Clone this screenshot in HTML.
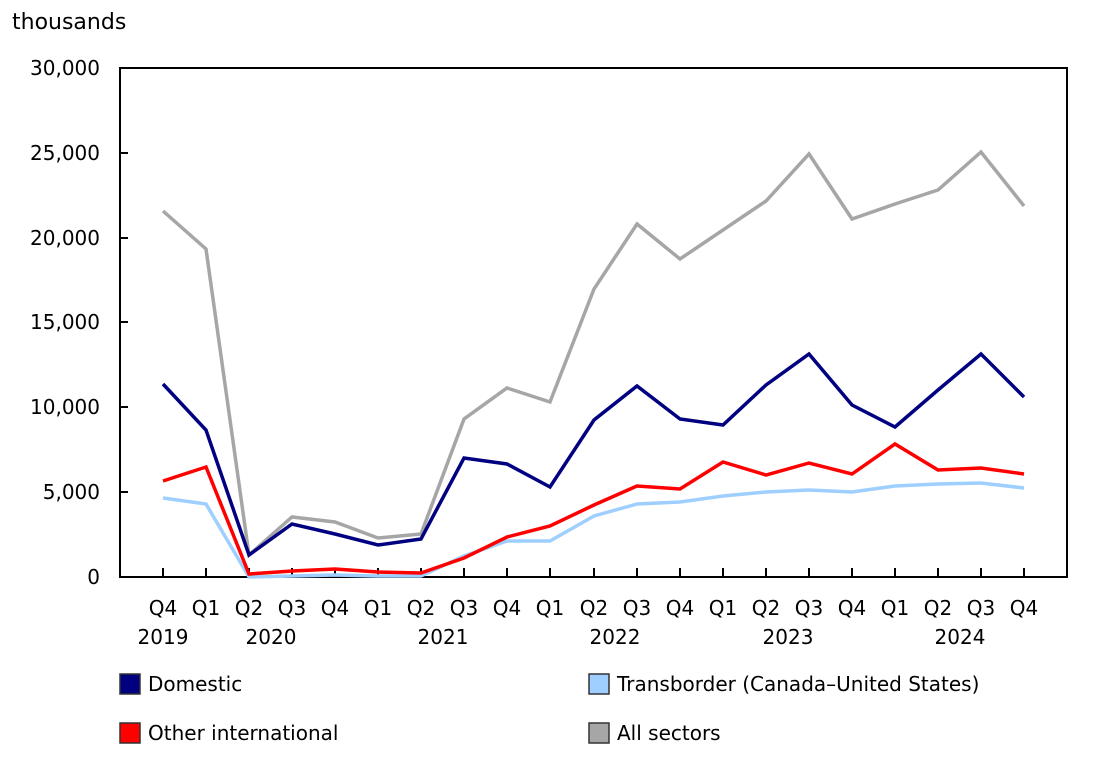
<!DOCTYPE html>
<html><head><meta charset="utf-8"><style>
body{margin:0;background:#fff;width:1103px;height:763px;overflow:hidden}
svg text{font-family:"DejaVu Sans","Liberation Sans",sans-serif;font-size:20px;fill:#000}
</style></head><body>
<svg width="1103" height="763" xmlns="http://www.w3.org/2000/svg">
<text x="12" y="29" style="font-size:22px">thousands</text>
<g text-anchor="end">
<text x="100" y="584">0</text>
<text x="100" y="499">5,000</text>
<text x="100" y="414">10,000</text>
<text x="100" y="329">15,000</text>
<text x="100" y="245">20,000</text>
<text x="100" y="160">25,000</text>
<text x="100" y="75">30,000</text>
</g>
<rect x="120" y="68" width="947" height="509" fill="none" stroke="#000" stroke-width="2"/>
<g stroke="#000" stroke-width="2">
<line x1="120" y1="492" x2="128" y2="492"/><line x1="120" y1="407" x2="128" y2="407"/>
<line x1="120" y1="322" x2="128" y2="322"/><line x1="120" y1="238" x2="128" y2="238"/>
<line x1="120" y1="153" x2="128" y2="153"/>
<path d="M163 577v-9M206 577v-9M249 577v-9M292 577v-9M335 577v-9M378 577v-9M421 577v-9M464 577v-9M507 577v-9M550 577v-9M594 577v-9M637 577v-9M680 577v-9M723 577v-9M766 577v-9M809 577v-9M852 577v-9M895 577v-9M938 577v-9M981 577v-9M1024 577v-9"/>
</g>
<g text-anchor="middle">
<text x="163" y="615">Q4</text><text x="206" y="615">Q1</text><text x="249" y="615">Q2</text><text x="292" y="615">Q3</text><text x="335" y="615">Q4</text><text x="378" y="615">Q1</text><text x="421" y="615">Q2</text><text x="464" y="615">Q3</text><text x="507" y="615">Q4</text><text x="550" y="615">Q1</text><text x="594" y="615">Q2</text><text x="637" y="615">Q3</text><text x="680" y="615">Q4</text><text x="723" y="615">Q1</text><text x="766" y="615">Q2</text><text x="809" y="615">Q3</text><text x="852" y="615">Q4</text><text x="895" y="615">Q1</text><text x="938" y="615">Q2</text><text x="981" y="615">Q3</text><text x="1024" y="615">Q4</text>
<text x="163" y="644">2019</text><text x="271" y="644">2020</text><text x="443" y="644">2021</text><text x="615" y="644">2022</text><text x="788" y="644">2023</text><text x="960" y="644">2024</text>
</g>
<g fill="none" stroke-width="3.5" stroke-linejoin="miter">
<polyline stroke="#a6a6a6" points="163,211 206,249 249,555 292,517 335,522 378,538 421,534 464,419 507,388 550,402 594,289 637,224 680,259 723,230 766,201 809,154 852,219 895,204 938,190 981,152 1024,206"/>
<polyline stroke="#9fcfff" points="163,498 206,504 249,577 292,576 335,575 378,576 421,576 464,556 507,541 550,541 594,516 637,504 680,502 723,496 766,492 809,490 852,492 895,486 938,484 981,483 1024,488"/>
<polyline stroke="#000080" points="163,384 206,430 249,555 292,524 335,534 378,545 421,539 464,458 507,464 550,487 594,420 637,386 680,419 723,425 766,385 809,354 852,405 895,427 938,390 981,354 1024,397"/>
<polyline stroke="#ff0000" points="163,481 206,467 249,574 292,571 335,569 378,572 421,573 464,558 507,537 550,526 594,505 637,486 680,489 723,462 766,475 809,463 852,474 895,444 938,470 981,468 1024,474"/>
</g>
<g stroke="#333" stroke-width="1.5">
<rect x="120" y="674" width="20" height="20" fill="#000080"/>
<rect x="120" y="723" width="20" height="20" fill="#ff0000"/>
<rect x="589" y="674" width="20" height="20" fill="#9fcfff"/>
<rect x="589" y="723" width="20" height="20" fill="#a6a6a6"/>
</g>
<text x="148" y="691">Domestic</text>
<text x="148" y="740">Other international</text>
<text x="617" y="691">Transborder (Canada–United States)</text>
<text x="617" y="740">All sectors</text>
</svg>
</body></html>
